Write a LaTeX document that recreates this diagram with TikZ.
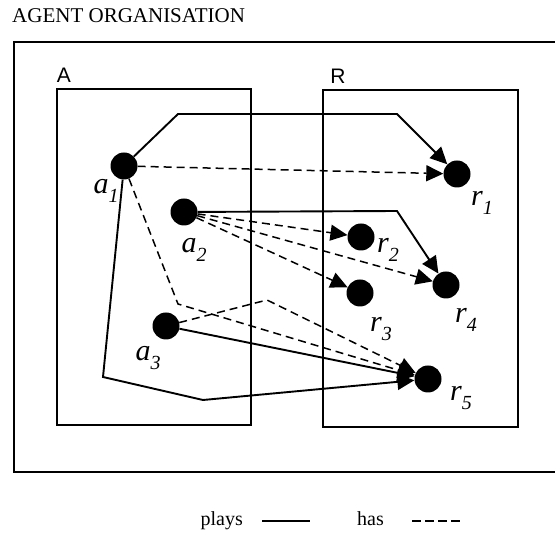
\documentclass[tikz,border=0pt]{standalone}
\usepackage{xcolor}
\usepackage{fontspec}
\setmainfont{Liberation Serif}
\newfontfamily\boxfont{Liberation Sans}
\usepackage{tikz}
\usetikzlibrary{arrows.meta,positioning}

\tikzset{
    dot/.style={circle, fill=black, minimum size=27pt, inner sep=0pt},
    plays/.style={line width=1.9pt, -{Triangle[length=17pt,width=16pt]}},
    has/.style={line width=1.5pt, dash pattern=on 8pt off 5pt, -{Triangle[length=17pt,width=16pt]}},
    lbl/.style={font=\fontsize{30}{30}\selectfont\itshape, inner sep=0pt},
    boxline/.style={line width=1.7pt},
    txt/.style={inner sep=0pt, font=\fontsize{20}{20}\selectfont}
}
\newcommand{\idx}[2]{#1\raisebox{-0.3em}{\fontsize{20}{20}\selectfont #2}}

\begin{document}
\begin{tikzpicture}[x=1pt,y=-1pt]
                \useasboundingbox (0,0) rectangle (555,534);

                \node[txt, anchor=base west, font=\fontsize{21}{21}\selectfont] (title) at (12,23) {AGENT ORGANISATION};

                \draw[boxline] (555,42) -- (14,42) -- (14,472) -- (555,472);

                \draw[boxline] (57,89) rectangle (251,425);
                \node[txt, font=\boxfont\fontsize{21}{21}\selectfont] (A) at (64,75) {A};

                \draw[boxline] (323,90) rectangle (518,427);
                \node[txt, font=\boxfont\fontsize{21}{21}\selectfont] (R) at (338,76) {R};

                \node[dot] (a1) at (124,166) {};
                \node[dot] (a2) at (184,212) {};
                \node[dot] (a3) at (166,326) {};
                \node[dot] (r1) at (457,174) {};
                \node[dot] (r2) at (361,237) {};
                \node[dot] (r3) at (360,293) {};
                \node[dot] (r4) at (446,285) {};
                \node[dot] (r5) at (428,379) {};

                \node[lbl] (a1lab) at (106,191) {\idx{a}{1}};
                \node[lbl] (a2lab) at (194,250) {\idx{a}{2}};
                \node[lbl] (a3lab) at (148,358) {\idx{a}{3}};
                \node[lbl] (r1lab) at (482,203) {\idx{r}{1}};
                \node[lbl] (r2lab) at (388,250) {\idx{r}{2}};
                \node[lbl] (r3lab) at (381,329) {\idx{r}{3}};
                \node[lbl] (r4lab) at (466,320) {\idx{r}{4}};
                \node[lbl] (r5lab) at (461,398) {\idx{r}{5}};

                \coordinate (k1) at (178,114);
                \coordinate (k2) at (397,114);
                \coordinate (k3) at (397,211);
                \coordinate (k4) at (103,377);
                \coordinate (k5) at (203,400);
                \coordinate (k6) at (178,304);
                \coordinate (k7) at (267,300);

                \draw[plays] (a1) -- (k1) -- (k2) -- (r1);
                \draw[plays] (a2) -- (k3) -- (r4);
                \draw[plays] (a3) -- (r5);
                \draw[plays] (a1) -- (k4) -- (k5) -- (r5);

                \draw[has] (a1) -- (r1);
                \draw[has] (a2) -- (r2);
                \draw[has] (a2) -- (r3);
                \draw[has] (a2) -- (r4);
                \draw[has] (a1) -- (k6) -- (r5);
                \draw[has] (a3) -- (k7) -- (r5);

                \node[txt, anchor=base east] (playstext) at (243,526) {plays};
                \coordinate (ps) at (262,521);
                \coordinate (pe) at (310,521);
                \draw[line width=1.9pt] (ps) -- (pe);

                \node[txt, anchor=base west] (hastext) at (357,526) {has};
                \coordinate (hs) at (412,521);
                \coordinate (he) at (462,521);
                \draw[line width=1.5pt, dash pattern=on 9pt off 4pt] (hs) -- (he);

            \end{tikzpicture}
\end{document}
